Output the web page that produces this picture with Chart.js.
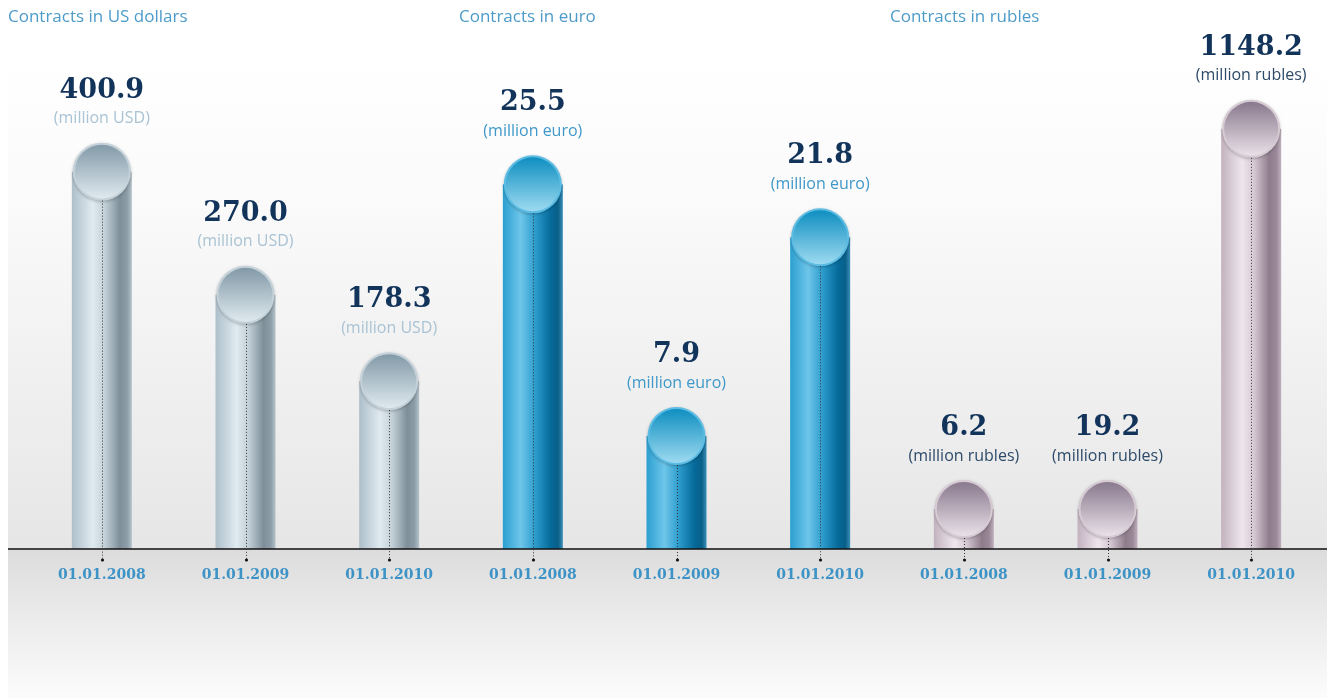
<!DOCTYPE html>
<html>
<head>
<meta charset="utf-8">
<script src="https://cdn.jsdelivr.net/npm/chart.js@4/dist/chart.umd.min.js"></script>
<style>
  html, body { margin: 0; padding: 0; background: #fff; }
  #wrap { width: 1327px; height: 698px; position: relative; }
</style>
</head>
<body>
<div id="wrap"><canvas id="contracts"></canvas></div>
<script>
// ── Data ──────────────────────────────────────────────────────────────────
const dates = ['01.01.2008', '01.01.2009', '01.01.2010'];
const usdValues = [400.9, 270.0, 178.3];
const euroValues = [25.5, 7.9, 21.8];
const rubleValues = [6.2, 19.2, 1148.2];
const groupTitles = ['Contracts in US dollars', 'Contracts in euro', 'Contracts in rubles'];
const unitLabels = ['(million USD)', '(million euro)', '(million rubles)'];

const labels = [...dates, ...dates, ...dates];
const pad = (vals, group) =>
    labels.map((_, i) => (Math.floor(i / 3) === group ? vals[i % 3] : null));

// ── Styles per group ──────────────────────────────────────────────────────
const styles = [
    {
        body: [[0, '#aebfca'], [0.35, '#e0eaf0'], [0.55, '#c3d0d8'], [0.8, '#7e8f99'], [0.92, '#8c9da7'], [1, '#b4c2ca']],
        capTop: '#7f97a5', capBottom: '#e2ecf1', rim: '#c4d1d9',
        unit: '#a9c3d4',
    },
    {
        body: [[0, '#2b9fd0'], [0.3, '#6ec6ea'], [0.55, '#2a9acb'], [0.8, '#056a9a'], [0.92, '#0a5f89'], [1, '#3a8fb8']],
        capTop: '#0a8cbf', capBottom: '#a2ddf2', rim: '#5bbce4',
        unit: '#3f98c9',
    },
    {
        body: [[0, '#c2b2bf'], [0.35, '#efe6ed'], [0.55, '#d6c8d3'], [0.8, '#8e7c8c'], [0.92, '#9a8898'], [1, '#c0b0bd']],
        capTop: '#85758a', capBottom: '#ede4eb', rim: '#d6cad3',
        unit: '#2d4a69',
    },
];

const VALUE_COLOR = '#12335a';
const DATE_COLOR = '#3e93c6';
const TITLE_COLOR = '#4d9bc9';

// ── Cylinders, background and text ────────────────────────────────────────
const cylinderPlugin = {
    id: 'cylinders',
    beforeDraw(chart) {
        const { ctx, width, height, chartArea } = chart;
        const base = chartArea.bottom;
        ctx.save();
        ctx.fillStyle = '#ffffff';
        ctx.fillRect(0, 0, width, height);
        let g = ctx.createLinearGradient(0, 60, 0, base);
        g.addColorStop(0, '#ffffff');
        g.addColorStop(0.3, '#fafafa');
        g.addColorStop(1, '#e6e6e6');
        ctx.fillStyle = g;
        ctx.fillRect(8, 60, width - 8, base - 60);
        g = ctx.createLinearGradient(0, base, 0, height);
        g.addColorStop(0, '#dcdcdc');
        g.addColorStop(1, '#fcfcfc');
        ctx.fillStyle = g;
        ctx.fillRect(8, base, width - 8, height - base);
        ctx.restore();
    },
    afterDatasetsDraw(chart) {
        const { ctx, chartArea, width } = chart;
        const base = chartArea.bottom;
        const bars = [];

        chart.data.datasets.forEach((ds, di) => {
            const st = styles[di];
            chart.getDatasetMeta(di).data.forEach((bar, j) => {
                const v = ds.data[j];
                if (v === null) return;
                const { x, y } = bar.getProps(['x', 'y'], true);
                const w = bar.width;
                const r = w / 2 - 1;
                bars.push({ x, y, r, v, group: di, idx: j });

                ctx.save();
                // body
                const bg = ctx.createLinearGradient(x - w / 2, 0, x + w / 2, 0);
                st.body.forEach(([o, c]) => bg.addColorStop(o, c));
                ctx.fillStyle = bg;
                ctx.fillRect(x - w / 2, y, w, base - y);

                // cap
                ctx.shadowColor = 'rgba(0,0,0,0.25)';
                ctx.shadowBlur = 3;
                ctx.shadowOffsetY = 1;
                ctx.beginPath();
                ctx.arc(x, y, r, 0, Math.PI * 2);
                ctx.fillStyle = st.rim;
                ctx.fill();
                ctx.shadowColor = 'transparent';
                const cg = ctx.createLinearGradient(0, y - r, 0, y + r);
                cg.addColorStop(0, st.capTop);
                cg.addColorStop(1, st.capBottom);
                ctx.beginPath();
                ctx.arc(x, y, r - 2, 0, Math.PI * 2);
                ctx.fillStyle = cg;
                ctx.fill();
                ctx.restore();
            });
        });

        // baseline
        ctx.save();
        ctx.strokeStyle = '#111';
        ctx.lineWidth = 1.5;
        ctx.beginPath();
        ctx.moveTo(8, base);
        ctx.lineTo(width, base);
        ctx.stroke();
        ctx.restore();

        bars.forEach((b, k) => {
            ctx.save();
            const px = Math.round(b.x) + 0.5;
            // dotted drop line
            ctx.strokeStyle = '#333';
            ctx.lineWidth = 1;
            ctx.setLineDash([1, 2]);
            ctx.beginPath();
            ctx.moveTo(px, b.y + b.r);
            ctx.lineTo(px, base + 11);
            ctx.stroke();
            ctx.setLineDash([]);
            ctx.fillStyle = '#111';
            ctx.beginPath();
            ctx.arc(px, base + 11, 1.6, 0, Math.PI * 2);
            ctx.fill();

            ctx.textAlign = 'center';
            ctx.textBaseline = 'middle';
            // value and unit
            const top = b.y - b.r;
            ctx.fillStyle = VALUE_COLOR;
            ctx.font = 'bold 27px "DejaVu Serif", serif';
            ctx.fillText(b.v.toFixed(1), b.x, top - 52);
            ctx.fillStyle = styles[b.group].unit;
            ctx.font = '16px "Open Sans", sans-serif';
            ctx.fillText(unitLabels[b.group], b.x, top - 24);
            // date
            ctx.fillStyle = DATE_COLOR;
            ctx.font = 'bold 14px "DejaVu Serif", serif';
            ctx.fillText(labels[b.idx], b.x, base + 26);

            // group title at the left edge of each group
            if (b.idx % 3 === 0) {
                const left = k === 0 ? 8 : (bars[k - 1].x + b.x) / 2 - 2;
                ctx.textAlign = 'left';
                ctx.fillStyle = TITLE_COLOR;
                ctx.font = '17px "Open Sans", sans-serif';
                ctx.fillText(groupTitles[b.group], left, 17);
            }
            ctx.restore();
        });
    },
};

// ── Chart ─────────────────────────────────────────────────────────────────
const clear = 'rgba(0,0,0,0)';
new Chart(document.getElementById('contracts'), {
    type: 'bar',
    data: {
        labels,
        datasets: [
            { data: pad(usdValues, 0), yAxisID: 'yUsd', backgroundColor: clear },
            { data: pad(euroValues, 1), yAxisID: 'yEuro', backgroundColor: clear },
            { data: pad(rubleValues, 2), yAxisID: 'yRub', backgroundColor: clear, minBarLength: 40 },
        ],
    },
    options: {
        responsive: true,
        maintainAspectRatio: false,
        animation: false,
        layout: { padding: { left: 30, right: 4, top: 100, bottom: 149 } },
        datasets: { bar: { grouped: false, barThickness: 60 } },
        plugins: { legend: { display: false }, tooltip: { enabled: false } },
        scales: {
            x: { display: false },
            yUsd: { display: false, min: 0, max: 477 },
            yEuro: { display: false, min: 0, max: 31.4 },
            yRub: { display: false, min: 0, max: 1227 },
        },
    },
    plugins: [cylinderPlugin],
});
</script>
</body>
</html>
